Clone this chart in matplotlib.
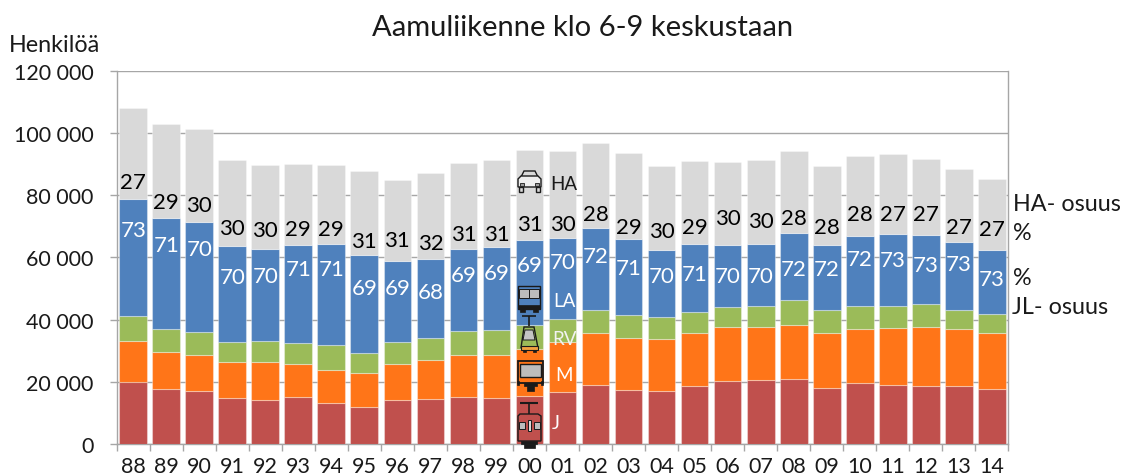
"""
Aamuliikenne klo 6-9 keskustaan: stacked bars by travel mode, with mode icons.
"""

import numpy as np
import matplotlib
matplotlib.use("Agg")
import matplotlib.pyplot as plt
from matplotlib.patches import Polygon, Rectangle


# ---------------------------------------------------------------------------
#  Data (thousands of persons)
# ---------------------------------------------------------------------------

years = ["88", "89", "90", "91", "92", "93", "94", "95", "96", "97", "98", "99", "00",
         "01", "02", "03", "04", "05", "06", "07", "08", "09", "10", "11", "12", "13", "14"]

juna = [20.0, 17.6, 17.0, 14.9, 14.2, 15.0, 13.0, 11.8, 14.0, 14.5, 15.0, 14.7, 15.4,
        16.7, 18.8, 17.3, 16.9, 18.7, 20.2, 20.6, 21.0, 18.1, 19.6, 18.8, 18.7, 18.7, 17.8]
metro = [13.2, 12.0, 11.5, 11.5, 12.0, 10.7, 10.8, 11.1, 11.6, 12.4, 13.6, 13.9, 15.0,
         16.0, 17.0, 16.8, 16.9, 17.1, 17.3, 17.1, 17.4, 17.7, 17.4, 18.4, 19.0, 18.3, 18.0]
raitiovaunu = [7.8, 7.3, 7.4, 6.3, 6.8, 6.6, 7.9, 6.3, 7.1, 7.1, 7.7, 8.0, 7.9,
               7.4, 7.2, 7.2, 7.0, 6.5, 6.6, 6.6, 8.0, 7.2, 7.3, 7.1, 7.4, 6.2, 5.9]
linja_auto = [37.9, 35.7, 35.4, 31.1, 29.6, 31.7, 32.5, 31.6, 26.0, 25.6, 26.4, 26.6, 27.3,
              26.0, 26.4, 24.6, 21.5, 22.0, 19.8, 20.0, 21.4, 20.9, 22.5, 23.1, 22.1, 21.7, 20.6]
henkiloauto = [29.1, 30.4, 30.1, 27.6, 27.3, 26.2, 25.7, 26.9, 26.3, 27.6, 27.8, 28.3, 29.1,
               28.3, 27.4, 27.7, 27.2, 26.6, 26.9, 27.0, 26.6, 25.6, 25.8, 25.8, 24.5, 23.4, 23.0]

ha_share = [27, 29, 30, 30, 30, 29, 29, 31, 31, 32, 31, 31, 31,
            30, 28, 29, 30, 29, 30, 30, 28, 28, 28, 27, 27, 27, 27]
jl_share = [73, 71, 70, 70, 70, 71, 71, 69, 69, 68, 69, 69, 69,
            70, 72, 71, 70, 71, 70, 70, 72, 72, 72, 73, 73, 73, 73]

y_ticks = [0, 20000, 40000, 60000, 80000, 100000, 120000]
y_tick_labels = ["0", "20 000", "40 000", "60 000", "80 000", "100 000", "120 000"]

# hand-placed data labels in the original: pixels from the top of the blue segment
ha_nudge = [19, 18, 19, 20, 21, 18, 17, 16, 23, 18, 17, 15, 18,
            16, 16, 14, 21, 19, 29, 25, 17, 20, 24, 22, 23, 17, 23]
jl_nudge = [29, 25, 25, 29, 25, 22, 23, 31, 25, 31, 24, 24, 23,
            22, 26, 27, 24, 28, 29, 30, 34, 22, 21, 24, 28, 20, 27]

plt.rcParams["font.family"] = ["Lato", "DejaVu Sans"]

W, H = 1124, 477
AXIS_GREY = "#a6a6a6"
DARK = "#1a1a1a"
FS = 15.5
LABEL_FS = 16
NOTE_FS = 16.8
ICON_FS = 13.5


# ---------------------------------------------------------------------------
#  Icon helpers (pixel coordinates of the overlay axes)
# ---------------------------------------------------------------------------

def box(ov, x0, y0, x1, y1, fc="none", ec=DARK, lw=1.0):
    ov.add_patch(Rectangle((x0, y0), x1 - x0, y1 - y0, fc=fc, ec=ec, lw=lw, zorder=6))


def poly(ov, pts, fc="none", ec=DARK, lw=1.0):
    ov.add_patch(Polygon(pts, closed=True, fc=fc, ec=ec, lw=lw, zorder=6))


def line(ov, xs, ys, lw=1.2):
    ov.plot(xs, ys, color=DARK, lw=lw, zorder=6, solid_capstyle="butt")


def draw_car(ov):
    poly(ov, [(521, 178), (524, 172), (535, 172), (538, 178)], fc="#d9d9d9")
    poly(ov, [(518, 180), (521, 177), (538, 177), (541, 180), (541, 188), (518, 188)], fc="#efefef")
    box(ov, 519, 188, 523, 193, fc="#d9d9d9")
    box(ov, 536, 188, 540, 193, fc="#d9d9d9")
    box(ov, 520, 184, 524, 187, fc="#9a9a9a", lw=0.6)
    box(ov, 535, 184, 539, 187, fc="#9a9a9a", lw=0.6)


def draw_bus(ov):
    box(ov, 518, 287, 540, 310, fc="#4f81bd")
    box(ov, 519, 290, 529, 299, fc="#bdbdbd", lw=0.7)
    box(ov, 529, 290, 539, 299, fc="#bdbdbd", lw=0.7)
    box(ov, 518, 306, 540, 310, fc=DARK, lw=0.5)
    box(ov, 520, 310, 525, 313, fc=DARK, lw=0.5)
    box(ov, 533, 310, 538, 313, fc=DARK, lw=0.5)


def draw_tram(ov):
    line(ov, [522, 536], [317, 317])
    line(ov, [529, 529], [317, 327])
    poly(ov, [(524, 328), (534, 328), (538, 349), (521, 349)], fc="#9bbb59")
    poly(ov, [(525, 331), (533, 331), (535, 341), (523, 341)], fc="#c4c4c4", lw=0.7)
    box(ov, 521, 347, 538, 351, fc="#f0a040", lw=0.8)
    box(ov, 523, 351, 526, 353, fc=DARK, lw=0.5)
    box(ov, 533, 351, 536, 353, fc=DARK, lw=0.5)


def draw_metro(ov):
    box(ov, 518, 362, 543, 384, fc="#ff7518", lw=1.3)
    box(ov, 520, 365, 541, 378, fc="#bdbdbd", lw=1.0)
    box(ov, 517, 382, 519, 386, fc=DARK, lw=0.5)
    box(ov, 541, 382, 543, 386, fc=DARK, lw=0.5)
    box(ov, 524, 384, 537, 387, fc=DARK, lw=0.5)
    box(ov, 527, 387, 534, 392, fc=DARK, lw=0.5)


def draw_train(ov):
    line(ov, [520, 538], [404, 404], lw=1.5)
    line(ov, [529, 529], [404, 415])
    poly(ov, [(520, 415), (538, 415), (541, 417), (541, 442), (518, 442), (518, 417)], fc="#c0504d")
    box(ov, 519, 423, 525, 430, fc="#bdbdbd", lw=0.7)
    box(ov, 534, 423, 540, 430, fc="#bdbdbd", lw=0.7)
    box(ov, 528, 421, 531, 432, fc="#d9d9d9", lw=0.7)
    box(ov, 521, 442, 537, 445, fc=DARK, lw=0.5)
    box(ov, 524, 445, 535, 449, fc=DARK, lw=0.5)


# ---------------------------------------------------------------------------
#  Chart
# ---------------------------------------------------------------------------

fig = plt.figure(figsize=(W / 100, H / 100), dpi=100)
left, right, top, bottom = 116.7, 1008.3, 72.0, 444.8
ax = fig.add_axes([left / W, 1 - bottom / H, (right - left) / W, (bottom - top) / H])

x = np.arange(len(years))
series = [juna, metro, raitiovaunu, linja_auto, henkiloauto]
colors = ["#c0504d", "#ff7518", "#9bbb59", "#4f81bd", "#d9d9d9"]

base = np.zeros(len(years))
for values, color in zip(series, colors):
    values = np.array(values) * 1000
    ax.bar(x, values, width=0.84, bottom=base, color=color,
           edgecolor=(1, 1, 1, 0.35), linewidth=0.8, zorder=3)
    base = base + values

blue_top = (np.array(juna) + np.array(metro) + np.array(raitiovaunu) + np.array(linja_auto)) * 1000

# positions from bars, nudges in points (pixels at 100 dpi * 0.72)
for i in range(len(years)):
    ax.annotate(str(ha_share[i]), (x[i], blue_top[i]), xytext=(0, ha_nudge[i] * 0.72),
                textcoords="offset points", ha="center", va="center_baseline",
                fontsize=LABEL_FS, color="black", zorder=5)
    ax.annotate(str(jl_share[i]), (x[i], blue_top[i]), xytext=(0, -jl_nudge[i] * 0.72),
                textcoords="offset points", ha="center", va="center_baseline",
                fontsize=LABEL_FS, color="white", zorder=5)

ax.set_xlim(-0.5, len(years) - 0.5)
ax.set_ylim(0, 120000)
ax.set_yticks(y_ticks, y_tick_labels, fontsize=FS, color=DARK)
ax.set_xticks(x, years, fontsize=FS, color=DARK)
ax.set_xticks(np.arange(len(years) + 1) - 0.5, minor=True)
ax.tick_params(axis="x", which="major", length=0, pad=9)
ax.tick_params(axis="x", which="minor", length=5, width=1.0, color=AXIS_GREY)
ax.tick_params(axis="y", length=5, width=1.0, color=AXIS_GREY, pad=11.5)
ax.grid(True, axis="y", color=AXIS_GREY, linewidth=1.0, zorder=0)
ax.set_axisbelow(True)
for side in ["top", "left", "right", "bottom"]:
    ax.spines[side].set_color(AXIS_GREY)
    ax.spines[side].set_linewidth(1.0)
ax.spines["top"].set_visible(False)


# ---------------------------------------------------------------------------
#  Overlay: title, side notes, icons
# ---------------------------------------------------------------------------

ov = fig.add_axes([0, 0, 1, 1], facecolor="none")
ov.set_xlim(0, W)
ov.set_ylim(H, 0)
ov.axis("off")

ov.text(583, 28, "Aamuliikenne klo 6-9 keskustaan", ha="center", va="center",
        fontsize=21, color=DARK)
ov.text(9, 46, "Henkilöä", ha="left", va="center", fontsize=NOTE_FS, color=DARK)
ov.text(1013, 205, "HA- osuus", ha="left", va="center", fontsize=NOTE_FS, color=DARK)
ov.text(1013, 234, "%", ha="left", va="center", fontsize=NOTE_FS, color=DARK)
ov.text(1013, 279, "%", ha="left", va="center", fontsize=NOTE_FS, color=DARK)
ov.text(1012, 308, "JL- osuus", ha="left", va="center", fontsize=NOTE_FS, color=DARK)

ov.text(564, 185, "HA", ha="center", va="center", fontsize=ICON_FS, color=DARK)
ov.text(564, 302, "LA", ha="center", va="center", fontsize=ICON_FS, color="white")
ov.text(564, 340, "RV", ha="center", va="center", fontsize=ICON_FS, color="#f2f2f2")
ov.text(564, 376, "M", ha="center", va="center", fontsize=ICON_FS, color="white")
ov.text(556, 424, "J", ha="center", va="center", fontsize=ICON_FS, color="white")

draw_car(ov)
draw_bus(ov)
draw_tram(ov)
draw_metro(ov)
draw_train(ov)

fig.savefig("out.png", dpi=100)
